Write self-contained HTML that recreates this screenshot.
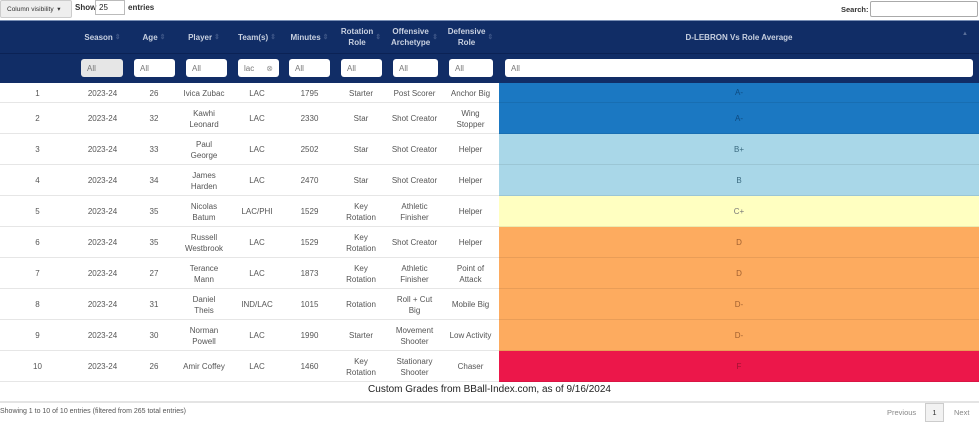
<!DOCTYPE html>
<html><head><meta charset="utf-8">
<style>
body{margin:0;width:979px;height:424px;overflow:hidden;background:#fff;font-family:"Liberation Sans",sans-serif;color:#444;position:relative}
.a{position:absolute;box-sizing:border-box}
.cell{position:absolute;display:flex;align-items:center;justify-content:center;text-align:center;font-size:8px;line-height:11px;color:#555}
.hd{position:absolute;display:flex;align-items:center;justify-content:center;text-align:center;font-size:8px;line-height:11px;color:#c8d0e0;font-weight:bold}
.inp{position:absolute;background:#fff;border-radius:3px;font-size:8px;color:#777;padding-left:6px;box-sizing:border-box;display:flex;align-items:center}
</style></head><body>
<div class="a" style="left:0;top:0;width:72px;height:18px;background:#eee;border:1px solid #ccc;border-radius:2px;font-size:6.5px;display:flex;align-items:center;padding-left:6px;color:#333">Column visibility&nbsp;&nbsp;▾</div>
<div class="a" style="left:75px;top:3px;font-size:8px;font-weight:bold;color:#333">Show</div>
<div class="a" style="left:95px;top:0;width:30px;height:15px;border:1px solid #bbb;font-size:8px;padding:2px 3px;color:#222">25</div>
<div class="a" style="left:128px;top:3px;font-size:8px;font-weight:bold;color:#333">entries</div>
<div class="a" style="left:841px;top:5px;font-size:7.5px;font-weight:bold;color:#333">Search:</div>
<div class="a" style="left:870px;top:1px;width:108px;height:16px;border:1px solid #aaa;border-radius:2px"></div>
<div class="a" style="left:0;top:20px;width:979px;height:63px;background:#112d66;border-top:1px solid #7a8fb5"></div>
<div class="a" style="left:0;top:53px;width:979px;height:1px;background:#0b2255"></div>
<div id="root"></div>
<div class="a" style="left:0;top:384px;width:979px;text-align:center;font-size:10px;color:#222">Custom Grades from BBall-Index.com, as of 9/16/2024</div>
<div class="a" style="left:0;top:401px;width:979px;height:2px;background:#e4e4e4"></div>
<div class="a" style="left:0;top:408px;font-size:7px;color:#555">Showing 1 to 10 of 10 entries (filtered from 265 total entries)</div>
<div class="a" style="left:887px;top:408px;font-size:7.5px;color:#888">Previous</div>
<div class="a" style="left:925px;top:403px;width:19px;height:19px;background:#f2f2f2;border:1px solid #ccc;font-size:7.5px;display:flex;align-items:center;justify-content:center;color:#333">1</div>
<div class="a" style="left:954px;top:408px;font-size:7.5px;color:#888">Next</div>
<script>
const headers=["","Season","Age","Player","Team(s)","Minutes","Rotation<br>Role","Offensive<br>Archetype","Defensive<br>Role","D-LEBRON Vs Role Average"];
const filters=["","All","All","All","lac","All","All","All","All","All"];
const seasons=["2023-24","2023-24","2023-24","2023-24","2023-24","2023-24","2023-24","2023-24","2023-24","2023-24"];
const ages=[26,32,33,34,35,35,27,31,30,26];
const players=["Ivica Zubac","Kawhi<br>Leonard","Paul<br>George","James<br>Harden","Nicolas<br>Batum","Russell<br>Westbrook","Terance<br>Mann","Daniel<br>Theis","Norman<br>Powell","Amir Coffey"];
const teams=["LAC","LAC","LAC","LAC","LAC/PHI","LAC","LAC","IND/LAC","LAC","LAC"];
const minutes=[1795,2330,2502,2470,1529,1529,1873,1015,1990,1460];
const rotations=["Starter","Star","Star","Star","Key<br>Rotation","Key<br>Rotation","Key<br>Rotation","Rotation","Starter","Key<br>Rotation"];
const offense=["Post Scorer","Shot Creator","Shot Creator","Shot Creator","Athletic<br>Finisher","Shot Creator","Athletic<br>Finisher","Roll + Cut<br>Big","Movement<br>Shooter","Stationary<br>Shooter"];
const defense=["Anchor Big","Wing<br>Stopper","Helper","Helper","Helper","Helper","Point of<br>Attack","Mobile Big","Low Activity","Chaser"];
const grades=["A-","A-","B+","B","C+","D","D","D-","D-","F"];
const gradeColor={"A-":"#1b78c2","B+":"#a9d7e8","B":"#a9d7e8","C+":"#ffffc1","D":"#fdab5f","D-":"#fdab5f","F":"#ec174a"};
const gradeText={"A-":"#0d4a80","B+":"#3b6b80","B":"#3b6b80","C+":"#777","D":"#a06030","D-":"#a06030","F":"#a01030"};
const colL=[0,75,130,178,230,284,335,387,442,499];
const colR=[75,130,178,230,284,335,387,442,499,979];
const inL=[0,81,134,186,238,289,341,393,449,505];
const inR=[0,123,175,227,279,330,382,438,493,973];
const root=document.getElementById('root');
const slug=s=>s.replace(/<br>/g,' ').toLowerCase().replace(/[^a-z0-9]+/g,'-').replace(/^-|-$/g,'');
headers.forEach((h,i)=>{
  if(!h)return;
  const d=document.createElement('div');d.className='hd';
  
  
  d.style.left=colL[i]+'px';d.style.width=(colR[i]-colL[i])+'px';d.style.top='21px';d.style.height='32px';
  d.innerHTML=h+(i==9?'':' <span style="color:#3d5587;font-size:7px">&nbsp;⇕</span>');
  root.appendChild(d);
  const f=document.createElement('div');f.className='inp';
  
  
  f.style.left=inL[i]+'px';f.style.width=(inR[i]-inL[i])+'px';f.style.top='59px';f.style.height='18px';
  if(i==1)f.style.background='#e6e6e6';
  f.innerHTML=filters[i]+(i==4?'<span style="margin-left:12px;color:#999">⊗</span>':'');
  root.appendChild(f);
});
const sa=document.createElement('div');sa.className='a';sa.style.cssText='left:962px;top:31px;font-size:6px;color:#5a6f99';sa.textContent='▲';


root.appendChild(sa);
const rowTop=i=>i==0?83:103+(i-1)*31;
const rowH=i=>i==0?20:31;
grades.forEach((g,r)=>{
  const top=rowTop(r),h=rowH(r);
  const row=document.createElement('div');row.className='a';
  
  
  row.style.cssText=`left:0;top:${top}px;width:979px;height:${h}px;border-bottom:1px solid #e6e6e6`;
  root.appendChild(row);
  const vals=[r+1,seasons[r],ages[r],players[r],teams[r],minutes[r],rotations[r],offense[r],defense[r],g];
  const names=['rank','season','age','player','team','minutes','rotation-role','offensive-archetype','defensive-role','grade'];
  vals.forEach((v,i)=>{
    const c=document.createElement('div');c.className='cell';
    
    
    c.style.left=colL[i]+'px';c.style.width=(colR[i]-colL[i])+'px';c.style.top=top+'px';c.style.height=h+'px';
    if(i==9){c.style.background=gradeColor[g];c.style.color=gradeText[g];c.style.borderBottom='1px solid rgba(0,0,0,0.08)';c.style.boxSizing='border-box';}
    c.innerHTML=v;root.appendChild(c);
  });
});
</script>
</body></html>
